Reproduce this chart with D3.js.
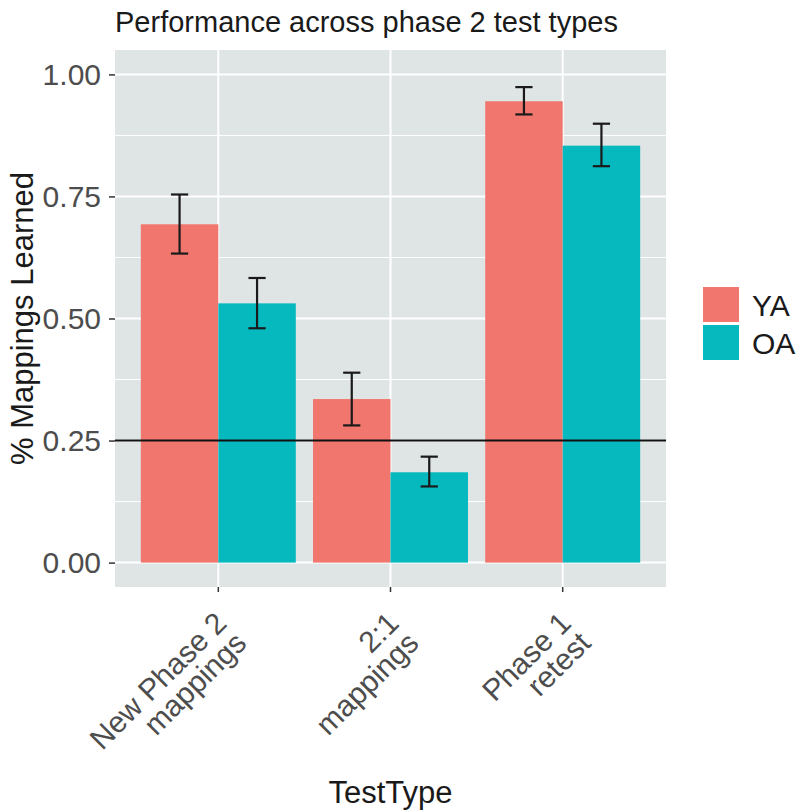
<!DOCTYPE html>
<html>
<head>
<meta charset="utf-8">
<script src="https://cdn.jsdelivr.net/npm/d3@7"></script>
<style>
  html, body { margin: 0; padding: 0; background: #ffffff; }
  svg { display: block; font-family: "Liberation Sans", Arial, Helvetica, sans-serif; }
</style>
</head>
<body>
<svg id="chart" width="797" height="812"></svg>
<script>
// Test types on the x axis (each label split over two lines)
const categories = ["New Phase 2 mappings", "2:1 mappings", "Phase 1 retest"];
const categoryLines = [["New Phase 2", "mappings"], ["2:1", "mappings"], ["Phase 1", "retest"]];
const groups = ["YA", "OA"];

// Proportion of mappings learned, with error bar limits
const meanYA  = [0.693, 0.335, 0.945];
const lowerYA = [0.633, 0.281, 0.918];
const upperYA = [0.754, 0.389, 0.974];
const meanOA  = [0.531, 0.185, 0.854];
const lowerOA = [0.480, 0.156, 0.812];
const upperOA = [0.583, 0.217, 0.899];

const chanceLevel = 0.25;
const yTicks = [0, 0.25, 0.5, 0.75, 1.0];
const yMinorTicks = [0.125, 0.375, 0.625, 0.875];
const title = "Performance across phase 2 test types";
const xTitle = "TestType";
const yTitle = "% Mappings Learned";

const colors = { YA: "#F1766E", OA: "#06B9BF" };

const rows = [];
categories.forEach((c, i) => {
  rows.push({ cat: c, group: "YA", mean: meanYA[i], lo: lowerYA[i], hi: upperYA[i] });
  rows.push({ cat: c, group: "OA", mean: meanOA[i], lo: lowerOA[i], hi: upperOA[i] });
});

const panel = { left: 115, right: 666, top: 50, bottom: 587 };
const svg = d3.select("#chart");

const x = d3.scaleBand()
  .domain(categories)
  .range([panel.left, panel.right])
  .paddingInner(0.1)
  .paddingOuter(0.15);
const xInner = d3.scaleBand().domain(groups).range([0, x.bandwidth()]);
const y = d3.scaleLinear().domain([-0.05, 1.05]).range([panel.bottom, panel.top]);

// Panel background
svg.append("rect")
  .attr("x", panel.left).attr("y", panel.top)
  .attr("width", panel.right - panel.left).attr("height", panel.bottom - panel.top)
  .attr("fill", "#DFE4E5");

// Grid lines
const grid = svg.append("g");
grid.selectAll("line.minor").data(yMinorTicks).join("line")
  .attr("x1", panel.left).attr("x2", panel.right)
  .attr("y1", d => y(d)).attr("y2", d => y(d))
  .attr("stroke", "#ffffff").attr("stroke-width", 1);
grid.selectAll("line.majorY").data(yTicks).join("line")
  .attr("x1", panel.left).attr("x2", panel.right)
  .attr("y1", d => y(d)).attr("y2", d => y(d))
  .attr("stroke", "#ffffff").attr("stroke-width", 2);
grid.selectAll("line.majorX").data(categories).join("line")
  .attr("x1", d => x(d) + x.bandwidth() / 2).attr("x2", d => x(d) + x.bandwidth() / 2)
  .attr("y1", panel.top).attr("y2", panel.bottom)
  .attr("stroke", "#ffffff").attr("stroke-width", 2);

// Bars
svg.append("g").selectAll("rect").data(rows).join("rect")
  .attr("x", d => x(d.cat) + xInner(d.group))
  .attr("width", xInner.bandwidth())
  .attr("y", d => y(d.mean))
  .attr("height", d => y(0) - y(d.mean))
  .attr("fill", d => colors[d.group]);

// Chance level reference line
svg.append("line")
  .attr("x1", panel.left).attr("x2", panel.right)
  .attr("y1", y(chanceLevel)).attr("y2", y(chanceLevel))
  .attr("stroke", "#111111").attr("stroke-width", 2);

// Error bars
const capHalf = x.step() * 0.05;
const eb = svg.append("g").attr("stroke", "#1a1a1a").attr("stroke-width", 2.2).attr("fill", "none");
rows.forEach(d => {
  const cx = x(d.cat) + xInner(d.group) + xInner.bandwidth() / 2;
  eb.append("line").attr("x1", cx).attr("x2", cx).attr("y1", y(d.lo)).attr("y2", y(d.hi));
  eb.append("line").attr("x1", cx - capHalf).attr("x2", cx + capHalf).attr("y1", y(d.lo)).attr("y2", y(d.lo));
  eb.append("line").attr("x1", cx - capHalf).attr("x2", cx + capHalf).attr("y1", y(d.hi)).attr("y2", y(d.hi));
});

// Y axis
const yAxis = svg.append("g")
  .attr("transform", `translate(${panel.left},0)`)
  .call(d3.axisLeft(y).tickValues(yTicks).tickFormat(d3.format(".2f")).tickSize(6).tickPadding(8));
yAxis.select(".domain").remove();
yAxis.selectAll(".tick line").attr("stroke", "#333333").attr("stroke-width", 1.5);
yAxis.selectAll(".tick text")
  .attr("fill", "#4D4D4D").attr("font-size", 30).attr("font-family", "Liberation Sans, Arial, sans-serif");

// X axis ticks
const xAxis = svg.append("g")
  .attr("transform", `translate(0,${panel.bottom})`)
  .call(d3.axisBottom(x).tickSize(5).tickFormat(""));
xAxis.select(".domain").remove();
xAxis.selectAll(".tick line").attr("stroke", "#333333").attr("stroke-width", 1.5);

// Rotated two-line category labels
const labelG = svg.append("g");
categories.forEach((c, i) => {
  const cx = x(c) + x.bandwidth() / 2;
  const g = labelG.append("g")
    .attr("transform", `translate(${cx + 10},${625}) rotate(-45)`);
  const t = g.append("text")
    .attr("text-anchor", "end")
    .attr("font-size", 30)
    .attr("fill", "#4D4D4D");
  categoryLines[i].forEach((line, j) => {
    t.append("tspan").attr("x", 0).attr("y", j * 28).text(line);
  });
});

// Titles
svg.append("text")
  .attr("x", panel.left).attr("y", 32)
  .attr("font-size", 29).attr("fill", "#1a1a1a")
  .text(title);
svg.append("text")
  .attr("x", (panel.left + panel.right) / 2).attr("y", 803)
  .attr("text-anchor", "middle")
  .attr("font-size", 31).attr("fill", "#1a1a1a")
  .text(xTitle);
svg.append("text")
  .attr("transform", `translate(33,${(panel.top + panel.bottom) / 2}) rotate(-90)`)
  .attr("text-anchor", "middle")
  .attr("font-size", 31).attr("fill", "#1a1a1a")
  .text(yTitle);

// Legend
const legend = svg.append("g").attr("transform", "translate(703,287)");
groups.forEach((gname, i) => {
  legend.append("rect")
    .attr("x", 0).attr("y", i * 38)
    .attr("width", 36).attr("height", 35)
    .attr("fill", colors[gname]);
  legend.append("text")
    .attr("x", 49).attr("y", i * 38 + 29)
    .attr("font-size", 30).attr("fill", "#1a1a1a")
    .text(gname);
});
</script>
</body>
</html>
